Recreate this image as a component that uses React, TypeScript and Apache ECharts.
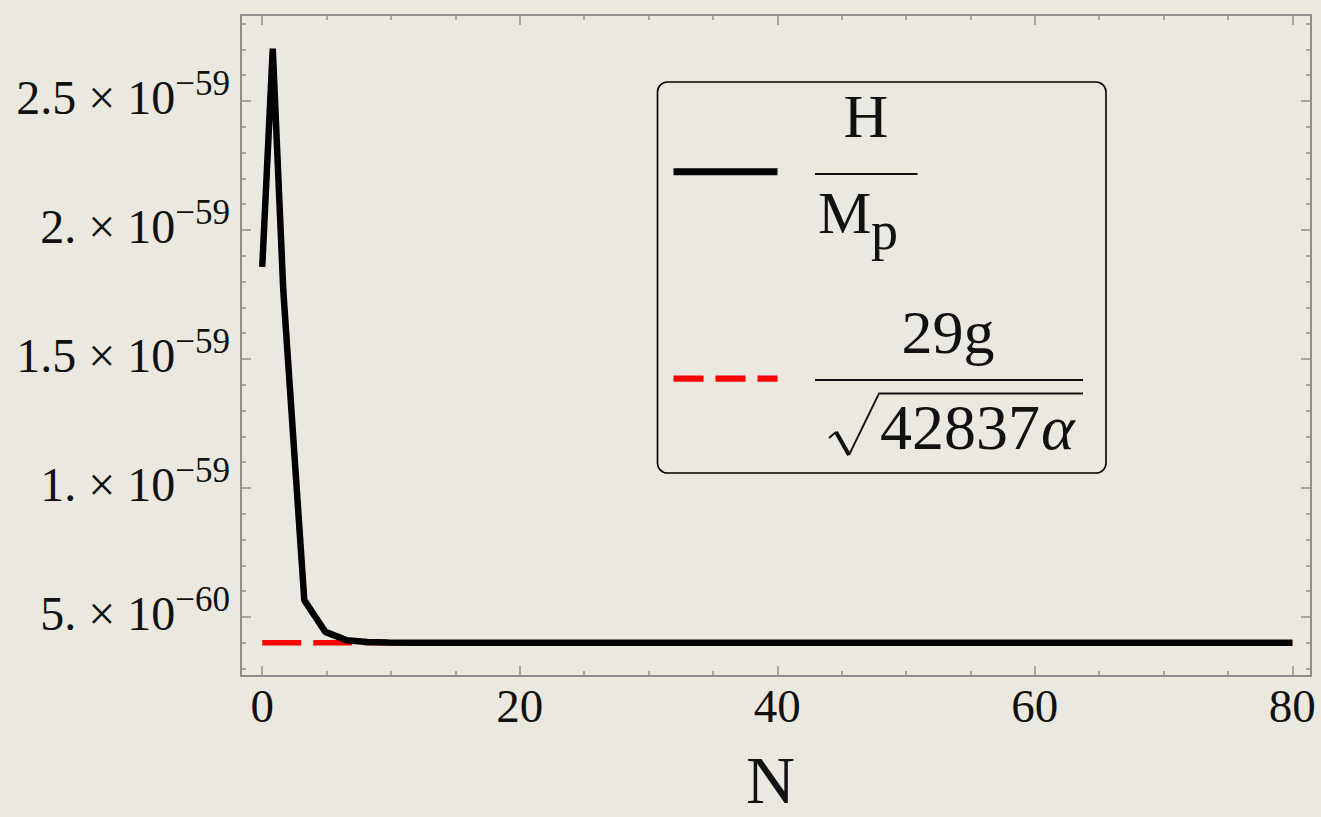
import React, { useEffect, useRef } from "react";
import * as echarts from "echarts";

// Sampled N values and H/M_p (in units of 1e-60)
const nSamples = [0, 0.816, 1.633, 3.265, 4.898, 6.531, 8.163, 9.796, 11.43, 13.06, 80];
const hubbleRatio = [18.57, 27.03, 17.66, 5.65, 4.42, 4.1, 4.03, 4.01, 4.0, 4.0, 4.0];

// Reference level 29g / sqrt(42837 α) (in units of 1e-60)
const refN = [0, 80];
const refValue = [4.0, 4.0];

// Axis ranges and ticks
const xRange = [-1.65, 81.45];
const yRange = [2.71, 28.33];
const xMajorTicks = [0, 20, 40, 60, 80];
const xMinorTicks = [5, 10, 15, 25, 30, 35, 45, 50, 55, 65, 70, 75];
const yMajorTicks = [5, 10, 15, 20, 25];
const yMinorTicks = [3, 4, 6, 7, 8, 9, 11, 12, 13, 14, 16, 17, 18, 19, 21, 22, 23, 24, 26, 27, 28];
const yTickMantissa = ["5.", "1.", "1.5", "2.", "2.5"];
const yTickExponent = ["−60", "−59", "−59", "−59", "−59"];

const FONT = "'Liberation Serif', 'Times New Roman', serif";
const FRAME = "#8e8e8e";
const INK = "#111111";

function xAxisDef(position: string, ticks: number[], len: number, labels: boolean, line: boolean) {
  return {
    type: "value",
    position,
    min: xRange[0],
    max: xRange[1],
    axisLine: { show: line, onZero: false, lineStyle: { color: FRAME, width: 2 } },
    axisTick: { show: true, inside: true, length: len, customValues: ticks, lineStyle: { color: FRAME, width: 1.5 } },
    axisLabel: {
      show: labels,
      customValues: ticks,
      margin: 6,
      fontFamily: FONT,
      fontSize: 47,
      color: INK,
    },
    splitLine: { show: false },
  };
}

function yAxisDef(position: string, ticks: number[], len: number, labels: boolean, line: boolean) {
  return {
    type: "value",
    position,
    min: yRange[0],
    max: yRange[1],
    axisLine: { show: line, onZero: false, lineStyle: { color: FRAME, width: 2 } },
    axisTick: { show: true, inside: true, length: len, customValues: ticks, lineStyle: { color: FRAME, width: 1.5 } },
    axisLabel: {
      show: labels,
      customValues: ticks,
      margin: 11,
      padding: [0, 0, 14, 0],
      formatter: (v: number) => {
        const i = yMajorTicks.findIndex((t) => Math.abs(t - v) < 1e-6);
        if (i < 0) return "";
        return `{m|${yTickMantissa[i]} × 10}{e|${yTickExponent[i]}}`;
      },
      rich: {
        m: { fontFamily: FONT, fontSize: 48, color: INK, verticalAlign: "bottom" },
        e: { fontFamily: FONT, fontSize: 35, color: INK, verticalAlign: "top", padding: [0, 0, 20, 0] },
      },
    },
    splitLine: { show: false },
  };
}

export default function App() {
  const ref = useRef<HTMLDivElement>(null);

  useEffect(() => {
    if (!ref.current) return;
    const chart = echarts.init(ref.current, undefined, { renderer: "svg" });

    const hData = nSamples.map((n, i) => [n, hubbleRatio[i]]);
    const rData = refN.map((n, i) => [n, refValue[i]]);

    chart.setOption({
      animation: false,
      backgroundColor: "#ebe9df",
      grid: { left: 241, top: 15, width: 1070, height: 661, containLabel: false },
      xAxis: [
        xAxisDef("bottom", xMajorTicks, 10, true, true),
        xAxisDef("top", xMajorTicks, 10, false, true),
        xAxisDef("bottom", xMinorTicks, 5, false, false),
        xAxisDef("top", xMinorTicks, 5, false, false),
      ],
      yAxis: [
        yAxisDef("left", yMajorTicks, 10, true, true),
        yAxisDef("right", yMajorTicks, 10, false, true),
        yAxisDef("left", yMinorTicks, 5, false, false),
        yAxisDef("right", yMinorTicks, 5, false, false),
      ],
      series: [
        {
          name: "29g/√(42837α)",
          type: "line",
          xAxisIndex: 0,
          yAxisIndex: 0,
          data: rData,
          showSymbol: false,
          symbol: "none",
          lineStyle: { color: "#ff0000", width: 5.5, type: [39, 12], cap: "butt" },
          z: 2,
        },
        {
          name: "H/M_p",
          type: "line",
          xAxisIndex: 0,
          yAxisIndex: 0,
          data: hData,
          showSymbol: false,
          symbol: "none",
          lineStyle: { color: "#000000", width: 6.5, join: "bevel" },
          z: 3,
        },
      ],
      graphic: [
        // x-axis title
        {
          type: "text",
          left: 746,
          top: 746,
          style: { text: "N", fontFamily: FONT, fontSize: 68, fill: INK },
        },
        // legend frame
        {
          type: "rect",
          shape: { x: 657.5, y: 82, width: 448.5, height: 391, r: 10 },
          style: { fill: "none", stroke: "#000", lineWidth: 1.6 },
          z: 10,
        },
        // legend: solid black sample
        {
          type: "line",
          shape: { x1: 673.5, y1: 171.7, x2: 777.5, y2: 171.7 },
          style: { stroke: "#000", lineWidth: 7 },
          z: 10,
        },
        // H / M_p
        {
          type: "text",
          x: 866,
          y: 147,
          style: { text: "H", fontFamily: FONT, fontSize: 62, fill: INK, align: "center", verticalAlign: "bottom" },
          z: 10,
        },
        {
          type: "line",
          shape: { x1: 815, y1: 174, x2: 917.5, y2: 174 },
          style: { stroke: INK, lineWidth: 1.8 },
          z: 10,
        },
        {
          type: "text",
          x: 818,
          y: 212.5,
          style: { text: "M", fontFamily: FONT, fontSize: 60, fill: INK, align: "left", verticalAlign: "middle" },
          z: 10,
        },
        {
          type: "text",
          x: 871,
          y: 231,
          style: { text: "p", fontFamily: FONT, fontSize: 54, fill: INK, align: "left", verticalAlign: "middle" },
          z: 10,
        },
        // legend: dashed red sample
        {
          type: "line",
          shape: { x1: 673.5, y1: 378.7, x2: 777.5, y2: 378.7 },
          style: { stroke: "#ff0000", lineWidth: 6.3, lineDash: [30, 12] },
          z: 10,
        },
        // 29g / sqrt(42837 α)
        {
          type: "text",
          x: 948,
          y: 332,
          style: { text: "29g", fontFamily: FONT, fontSize: 62, fill: INK, align: "center", verticalAlign: "middle" },
          z: 10,
        },
        {
          type: "line",
          shape: { x1: 815, y1: 380, x2: 1083, y2: 380 },
          style: { stroke: INK, lineWidth: 1.8 },
          z: 10,
        },
        {
          type: "polyline",
          shape: { points: [[829, 438], [836, 432]] },
          style: { stroke: INK, lineWidth: 2, fill: "none" },
          z: 10,
        },
        {
          type: "polyline",
          shape: { points: [[836, 432], [849, 455]] },
          style: { stroke: INK, lineWidth: 4, fill: "none" },
          z: 10,
        },
        {
          type: "polyline",
          shape: { points: [[849, 455], [879, 393.5], [1083, 393.5]] },
          style: { stroke: INK, lineWidth: 1.8, fill: "none", lineJoin: "miter" },
          z: 10,
        },
        {
          type: "text",
          x: 880,
          y: 427,
          style: { text: "42837", fontFamily: FONT, fontSize: 64, fill: INK, align: "left", verticalAlign: "middle" },
          z: 10,
        },
        {
          type: "text",
          x: 1041,
          y: 427,
          style: { text: "α", fontFamily: FONT, fontSize: 64, fontStyle: "italic", fill: INK, align: "left", verticalAlign: "middle" },
          z: 10,
        },
      ],
    });

    return () => chart.dispose();
  }, []);

  return (
    <div
      ref={ref}
      style={{ position: "fixed", left: 0, top: 0, width: 1321, height: 817 }}
    />
  );
}
